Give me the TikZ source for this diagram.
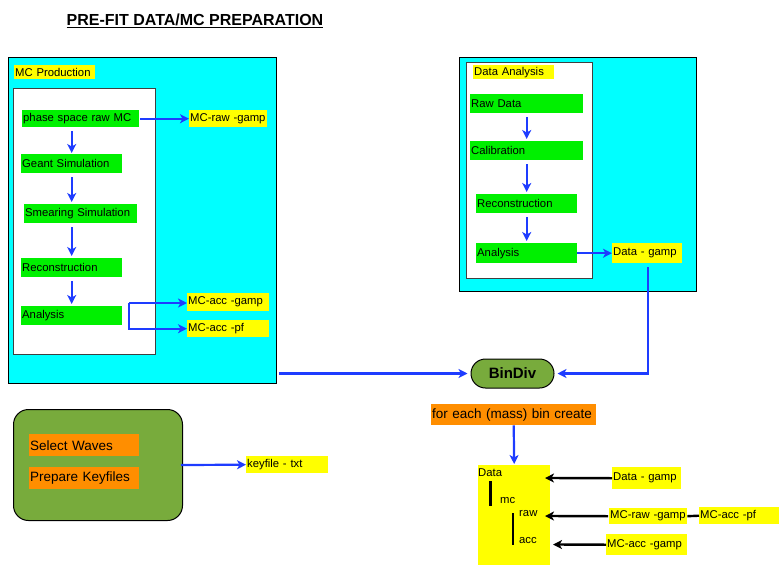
\documentclass[tikz,border=0pt]{standalone}
\usepackage{fontspec}
\setmainfont{Liberation Sans}
\usetikzlibrary{arrows.meta}

\definecolor{panelcyan}{HTML}{00FFFF}
\definecolor{stepgreen}{HTML}{00F000}
\definecolor{tagyellow}{HTML}{FFFF00}
\definecolor{taskorange}{HTML}{FF8E00}
\definecolor{olive}{HTML}{78AB3C}
\definecolor{flowblue}{HTML}{1E3CFF}

\tikzset{
  small/.style={font=\fontsize{11.3}{13}\selectfont},
  big/.style={font=\fontsize{13.5}{15}\selectfont},
  tagbox/.style={anchor=north west, inner xsep=1pt, inner ysep=0pt, align=left, small},
  stepbox/.style={tagbox, fill=stepgreen},
  filebox/.style={tagbox, fill=tagyellow},
  taskbox/.style={tagbox, fill=taskorange, big},
  panel/.style={anchor=north west, draw=black, line width=1pt, fill=panelcyan, inner sep=0pt},
  frame/.style={anchor=north west, draw=black!75, line width=1.3pt, fill=white, inner sep=0pt},
  bluearr/.style={draw=flowblue, line width=2.2pt, -{Stealth[length=9pt,width=9pt,inset=2.5pt]}},
  blackarr/.style={draw=black, line width=2.4pt, -{Stealth[length=9pt,width=9pt,inset=2.5pt]}},
  treeline/.style={draw=black, line width=2.4pt},
  treetext/.style={anchor=west, inner sep=0pt, small},
}

\begin{document}
\begin{tikzpicture}[x=1pt,y=-1pt]
\useasboundingbox (0,0) rectangle (779,565);

% title
\node[font=\bfseries\fontsize{16}{18}\selectfont] (title) at (195,21) {\underline{PRE-FIT DATA/MC PREPARATION}};

% ---- MC production panel ----
\node[panel, minimum width=268pt, minimum height=326pt] (mcbox) at (8,57) {};
\node[filebox, text width=79pt, minimum height=14pt] (mcprod) at (14,65) {MC Production};
\node[frame, minimum width=142pt, minimum height=266pt] (mcinner) at (13,88) {};
\node[stepbox, text width=115pt, minimum height=17pt] (ps) at (22,110) {phase space raw MC};
\node[stepbox, text width=99pt, minimum height=19pt] (geant) at (21,154) {Geant Simulation};
\node[stepbox, text width=111pt, minimum height=19pt] (smear) at (24,204) {Smearing Simulation};
\node[stepbox, text width=99pt, minimum height=19pt] (mcreco) at (21,258) {Reconstruction};
\node[stepbox, text width=99pt, minimum height=19pt] (mcana) at (21,306) {Analysis};
\node[filebox, text width=76pt, minimum height=17pt] (mcraw) at (189,110) {MC-raw -gamp};
\node[filebox, text width=80pt, minimum height=18pt] (mcaccg) at (187,293) {MC-acc -gamp};
\node[filebox, text width=80pt, minimum height=17pt] (mcaccpf) at (187,320) {MC-acc -pf};

\draw[bluearr, shorten <=4pt, shorten >=1pt] (ps.south -| geant.north) -- (geant.north);
\draw[bluearr, shorten <=4pt, shorten >=2pt] (geant.south) -- (geant.south |- smear.north);
\draw[bluearr, shorten <=4pt, shorten >=2pt] (smear.south -| mcreco.north) -- (mcreco.north);
\draw[bluearr, shorten <=4pt, shorten >=2pt] (mcreco.south) -- (mcana.north);
\draw[bluearr] ([xshift=1pt]ps.east) -- (mcraw.west);
\coordinate (fork) at (129,303);
\draw[bluearr] (fork) -- (fork -| mcaccg.west);
\draw[bluearr] (fork) -- (fork |- mcaccpf.west) -- (mcaccpf.west);

% ---- data analysis panel ----
\node[panel, minimum width=237pt, minimum height=234pt] (databox) at (459,57) {};
\node[frame, minimum width=126pt, minimum height=216pt] (dainner) at (466,62) {};
\node[filebox, text width=79pt, minimum height=14pt] (dalabel) at (473,65) {Data Analysis};
\node[stepbox, text width=111pt, minimum height=19pt] (rawd) at (470,94) {Raw Data};
\node[stepbox, text width=111pt, minimum height=19pt] (calib) at (470,141) {Calibration};
\node[stepbox, text width=99pt, minimum height=19pt] (dreco) at (476,194) {Reconstruction};
\node[stepbox, text width=99pt, minimum height=20pt] (dana) at (476,243) {Analysis};
\node[filebox, text width=68pt, minimum height=20pt] (dgamp) at (612,243) {Data - gamp};

\draw[bluearr, shorten <=4pt, shorten >=2pt] (rawd.south) -- (calib.north);
\draw[bluearr, shorten <=4pt, shorten >=2pt] (calib.south) -- (dreco.north);
\draw[bluearr, shorten <=4pt, shorten >=2pt] (dreco.south) -- (dana.north);
\draw[bluearr] (dana.east) -- (dgamp.west);

% ---- bin division ----
\node[draw=black, line width=1pt, fill=olive, rounded corners=14.5pt,
      minimum width=83pt, minimum height=29pt, inner sep=0pt,
      font=\bfseries\fontsize{15}{17}\selectfont] (bindiv) at (512.5,373.5) {BinDiv};
\coordinate (mcout) at (279,373.5);
\draw[bluearr, shorten >=3pt] (mcout) -- (bindiv.west);
\draw[bluearr, shorten <=4pt, shorten >=3pt] ([xshift=1pt]dgamp.south) |- (bindiv.east);

\node[taskbox, text width=163pt, minimum height=21pt] (foreach) at (431,404) {for each (mass) bin create};

% per-bin output tree
\node[anchor=north west, fill=tagyellow, minimum width=72pt, minimum height=100pt, inner sep=0pt] (outbox) at (478,465) {};
\draw[bluearr, shorten >=1pt] (foreach.south) -- (outbox.north);
\node[treetext] (tdata) at (478,473) {Data};
\node[treetext] (tmc) at (500,501) {mc};
\node[treetext] (traw) at (519,514) {raw};
\node[treetext] (tacc) at (519,541) {acc};
\coordinate (l1a) at (490.5,481);
\coordinate (l1b) at (490.5,506);
\coordinate (l2a) at (513,513);
\coordinate (l2b) at (513,545);
\draw[treeline] (l1a) -- (l1b);
\draw[treeline] (l2a) -- (l2b);

\node[filebox, text width=67pt, minimum height=22pt] (dgamp2) at (612,467) {Data - gamp};
\node[filebox, text width=76pt, minimum height=16pt] (mcraw2) at (609,508) {MC-raw -gamp};
\node[filebox, text width=78pt, minimum height=17pt] (mcaccpf2) at (699,507) {MC-acc -pf};
\node[filebox, text width=79pt, minimum height=21pt] (mcaccg2) at (606,534) {MC-acc -gamp};

\coordinate (indata) at (545,478);
\coordinate (inraw) at (545,516);
\coordinate (inacc) at (553,544.5);
\draw[blackarr] (dgamp2.west) -- (indata);
\draw[blackarr] ([xshift=-1pt]mcraw2.west) -- (inraw);
\draw[blackarr] (mcaccg2.west) -- (inacc);
\draw[treeline] (mcraw2.east) -- (mcaccpf2.west);

% ---- wave selection ----
\node[anchor=north west, draw=black, line width=1pt, fill=olive, rounded corners=15pt,
      minimum width=169pt, minimum height=111pt, inner sep=0pt] (wavebox) at (13,409) {};
\node[taskbox, text width=108pt, minimum height=22pt] (selw) at (29,434) {Select Waves};
\node[taskbox, text width=108pt, minimum height=22pt] (prepk) at (29,467) {Prepare Keyfiles};
\node[filebox, text width=80pt, minimum height=17pt] (keyfile) at (246,456) {keyfile - txt};
\draw[bluearr] ([xshift=-2pt]wavebox.east) -- (keyfile.west);

\end{tikzpicture}
\end{document}
